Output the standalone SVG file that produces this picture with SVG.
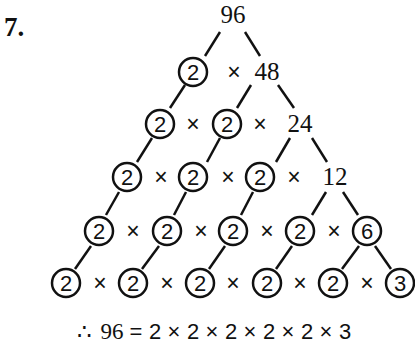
<svg xmlns="http://www.w3.org/2000/svg" width="415" height="353" viewBox="0 0 415 353">
<style>
.c{fill:none;stroke:#111;stroke-width:2.5}
.d{font-family:"Liberation Sans","DejaVu Sans",sans-serif;font-size:22px;text-anchor:middle;fill:#111}
.n{font-family:"Liberation Serif","DejaVu Serif",serif;font-size:25px;text-anchor:middle;fill:#111}
.x{font-family:"Liberation Sans","DejaVu Sans",sans-serif;font-size:23px;text-anchor:middle;fill:#111}
.e{font-family:"Liberation Sans","DejaVu Sans",sans-serif;font-size:22px;text-anchor:middle;fill:#111}
.ex{font-family:"Liberation Sans","DejaVu Sans",sans-serif;font-size:22px;text-anchor:middle;fill:#111}
.es{font-family:"Liberation Serif","DejaVu Serif",serif;font-size:23px;text-anchor:middle;fill:#111}
#connectors line{stroke:#111;stroke-width:2.5;stroke-linecap:butt}
</style>
<rect width="415" height="353" fill="#fff"/>
<g id="label"><text x="4" y="36" font-family="Liberation Serif,serif" font-weight="bold" font-size="27" fill="#111">7.</text></g>
<g id="connectors">
<line x1="220" y1="32" x2="205" y2="56"/>
<line x1="245" y1="32" x2="260" y2="56"/>
<line x1="185" y1="85" x2="170" y2="108"/>
<line x1="251" y1="85" x2="237" y2="108"/>
<line x1="278" y1="85" x2="294" y2="108"/>
<line x1="152" y1="138" x2="137" y2="162"/>
<line x1="220" y1="138" x2="207" y2="162"/>
<line x1="290" y1="138" x2="276" y2="162"/>
<line x1="312" y1="138" x2="327" y2="162"/>
<line x1="119" y1="192" x2="106" y2="215"/>
<line x1="186" y1="192" x2="174" y2="215"/>
<line x1="253" y1="192" x2="241" y2="215"/>
<line x1="326" y1="192" x2="312" y2="215"/>
<line x1="343" y1="192" x2="358" y2="215"/>
<line x1="91" y1="246" x2="75" y2="269"/>
<line x1="159" y1="246" x2="142" y2="269"/>
<line x1="225" y1="246" x2="209" y2="269"/>
<line x1="292" y1="246" x2="276" y2="269"/>
<line x1="359" y1="246" x2="342" y2="269"/>
<line x1="375" y1="246" x2="391" y2="269"/>
</g>
<g id="n96"><text class="n" x="233" y="23">96</text></g>
<g id="r1">
<circle class="c" cx="193" cy="72" r="14"/><text class="d" x="193" y="80">2</text>
<text class="x" x="234" y="80">×</text>
<text class="n" x="267" y="80">48</text>
</g>
<g id="r2">
<circle class="c" cx="160" cy="124" r="14"/><text class="d" x="160" y="132">2</text>
<text class="x" x="193" y="132">×</text>
<circle class="c" cx="227" cy="124" r="14"/><text class="d" x="227" y="132">2</text>
<text class="x" x="260" y="132">×</text>
<text class="n" x="300" y="132">24</text>
</g>
<g id="r3">
<circle class="c" cx="127" cy="177" r="14"/><text class="d" x="127" y="185">2</text>
<text class="x" x="161" y="185">×</text>
<circle class="c" cx="193" cy="177" r="14"/><text class="d" x="193" y="185">2</text>
<text class="x" x="228" y="185">×</text>
<circle class="c" cx="260" cy="177" r="14"/><text class="d" x="260" y="185">2</text>
<text class="x" x="294" y="185">×</text>
<text class="n" x="335" y="185">12</text>
</g>
<g id="r4">
<circle class="c" cx="99" cy="231" r="14"/><text class="d" x="99" y="239">2</text>
<text class="x" x="133" y="239">×</text>
<circle class="c" cx="167" cy="231" r="14"/><text class="d" x="167" y="239">2</text>
<text class="x" x="201" y="239">×</text>
<circle class="c" cx="233" cy="231" r="14"/><text class="d" x="233" y="239">2</text>
<text class="x" x="267" y="239">×</text>
<circle class="c" cx="300" cy="231" r="14"/><text class="d" x="300" y="239">2</text>
<text class="x" x="334" y="239">×</text>
<circle class="c" cx="367" cy="231" r="14"/><text class="d" x="367" y="239">6</text>
</g>
<g id="r5">
<circle class="c" cx="66" cy="283" r="14"/><text class="d" x="66" y="291">2</text>
<text class="x" x="100" y="291">×</text>
<circle class="c" cx="133" cy="283" r="14"/><text class="d" x="133" y="291">2</text>
<text class="x" x="167" y="291">×</text>
<circle class="c" cx="200" cy="283" r="14"/><text class="d" x="200" y="291">2</text>
<text class="x" x="233" y="291">×</text>
<circle class="c" cx="267" cy="283" r="14"/><text class="d" x="267" y="291">2</text>
<text class="x" x="300" y="291">×</text>
<circle class="c" cx="333" cy="283" r="14"/><text class="d" x="333" y="291">2</text>
<text class="x" x="367" y="291">×</text>
<circle class="c" cx="400" cy="283" r="14"/><text class="d" x="400" y="291">3</text>
</g>
<g id="result">
<text class="es" x="84" y="339">∴</text>
<text class="es" x="112" y="339">96</text>
<text class="e" x="136" y="339">=</text>
<text class="e" x="155" y="339">2</text>
<text class="ex" x="174" y="339">×</text>
<text class="e" x="193" y="339">2</text>
<text class="ex" x="212" y="339">×</text>
<text class="e" x="231" y="339">2</text>
<text class="ex" x="250" y="339">×</text>
<text class="e" x="269" y="339">2</text>
<text class="ex" x="288" y="339">×</text>
<text class="e" x="307" y="339">2</text>
<text class="ex" x="326" y="339">×</text>
<text class="e" x="345" y="339">3</text>
</g>
</svg>
